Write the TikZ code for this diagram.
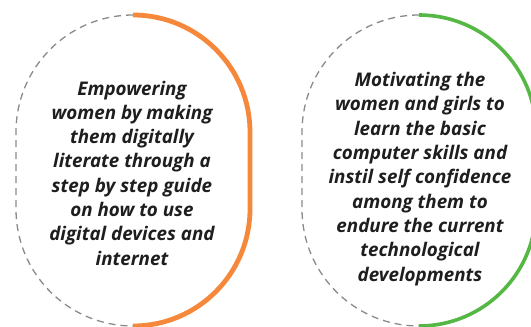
\documentclass[tikz,border=0pt]{standalone}
\usepackage{fontspec}
\setmainfont{Open Sans}
\definecolor{orng}{HTML}{F5883A}
\definecolor{grn}{HTML}{55B844}
\definecolor{dgray}{HTML}{8A8A8A}
\definecolor{txt}{HTML}{1E1E1E}
\begin{document}
\begin{tikzpicture}[x=1pt,y=1pt,
  halfdash/.style={draw=dgray,line width=1.3pt,dash pattern=on 7pt off 5pt},
  halforange/.style={draw=orng,line width=4.8pt},
  halfgreen/.style={draw=grn,line width=3.6pt},
  bodytext/.style={align=center,text=txt,font=\fontsize{18.8}{24.3}\selectfont\bfseries\itshape,inner sep=0pt}]
\useasboundingbox (0,0) rectangle (531,327);
% left stadium
\coordinate (lt) at (133,312);
\coordinate (rt) at (419,312);
\draw[halfdash] (lt) arc[start angle=90,end angle=180,radius=117] -- ++(0,-77) arc[start angle=180,end angle=270,radius=117];
\draw[halforange] (lt) arc[start angle=90,end angle=0,radius=117] -- ++(0,-77) arc[start angle=0,end angle=-90,radius=117];
% right stadium
\draw[halfdash] (rt) arc[start angle=90,end angle=180,radius=117] -- ++(0,-77) arc[start angle=180,end angle=270,radius=117];
\draw[halfgreen] (rt) arc[start angle=90,end angle=0,radius=117] -- ++(0,-77) arc[start angle=0,end angle=-90,radius=117];
\node[bodytext] (lefttext) at (132,154) {Empowering\\women by making\\them digitally\\literate through a\\step by step guide\\on how to use\\digital devices and\\internet};
\node[bodytext] (righttext) at (420,148) {Motivating the\\women and girls to\\learn the basic\\computer skills and\\instil self confidence\\among them to\\endure the current\\technological\\developments};
\end{tikzpicture}
\end{document}
